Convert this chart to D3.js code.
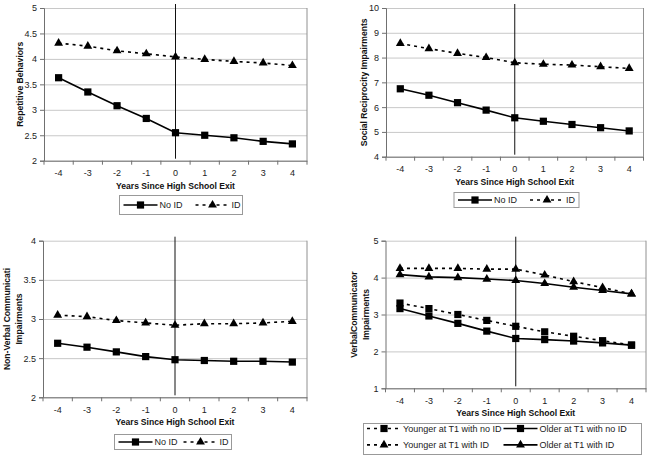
<!DOCTYPE html>
<html>
<head>
<meta charset="utf-8">
<script src="https://cdn.jsdelivr.net/npm/d3@7"></script>
<style>
  body { margin: 0; background: #fff; }
  svg { display: block; font-family: 'Liberation Sans', Arial, sans-serif; }
  .axis text { font-size: 9px; fill: #222; }
  .title { font-size: 8.6px; font-weight: bold; fill: #111; }
  .legend text { font-size: 9px; fill: #222; }
</style>
</head>
<body>
<svg width="651" height="459"></svg>
<script>
const years = [-4, -3, -2, -1, 0, 1, 2, 3, 4]

const repNoId = [3.63, 3.35, 3.08, 2.83, 2.55, 2.50, 2.45, 2.38, 2.33]
const repId = [4.31, 4.25, 4.16, 4.10, 4.04, 3.99, 3.95, 3.92, 3.87]

const socNoId = [6.74, 6.48, 6.18, 5.88, 5.57, 5.43, 5.30, 5.17, 5.04]
const socId = [8.57, 8.36, 8.17, 8.00, 7.79, 7.73, 7.70, 7.63, 7.56]

const nvNoId = [2.69, 2.64, 2.58, 2.52, 2.48, 2.47, 2.46, 2.46, 2.45]
const nvId = [3.05, 3.03, 2.98, 2.95, 2.92, 2.94, 2.94, 2.95, 2.97]

const vYoungNoId = [3.31, 3.16, 3.00, 2.84, 2.68, 2.53, 2.41, 2.29, 2.17]
const vOldNoId = [3.16, 2.96, 2.76, 2.55, 2.35, 2.32, 2.28, 2.23, 2.17]
const vYoungId = [4.25, 4.25, 4.25, 4.23, 4.23, 4.07, 3.89, 3.73, 3.56]
const vOldId = [4.08, 4.02, 4.00, 3.96, 3.92, 3.84, 3.74, 3.65, 3.56]

const repTicks = [2, 2.5, 3, 3.5, 4, 4.5, 5]
const socTicks = [4, 5, 6, 7, 8, 9, 10]
const nvTicks = [2, 2.5, 3, 3.5, 4]
const vTicks = [1, 2, 3, 4, 5]

const xTitle = 'Years Since High School Exit'

const svg = d3.select('svg')

const panels = [
  {
    box: { left: 44, right: 307, top: 8, bottom: 160.7 },
    ticks: repTicks, yLabel: ['Repetitive Behaviors'], yLabelX: 20,
    series: [
      { name: 'No ID', values: repNoId, shape: 'square', dashed: false },
      { name: 'ID', values: repId, shape: 'triangle', dashed: true }
    ],
    legend: { x: 119.5, y: 195.5, w: 123, h: 19, rows: 1 }
  },
  {
    box: { left: 386, right: 643.5, top: 8, bottom: 156.7 },
    ticks: socTicks, yLabel: ['Social Reciprocity Impairments'], yLabelX: 364,
    series: [
      { name: 'No ID', values: socNoId, shape: 'square', dashed: false },
      { name: 'ID', values: socId, shape: 'triangle', dashed: true }
    ],
    legend: { x: 454, y: 192.5, w: 125, h: 15, rows: 1 }
  },
  {
    box: { left: 43, right: 307, top: 240.7, bottom: 397.3 },
    ticks: nvTicks, yLabel: ['Non-Verbal Communicati', 'Impairments'], yLabelX: 7,
    series: [
      { name: 'No ID', values: nvNoId, shape: 'square', dashed: false },
      { name: 'ID', values: nvId, shape: 'triangle', dashed: true }
    ],
    legend: { x: 114.5, y: 434.5, w: 117, h: 15, rows: 1, gap: 6 }
  },
  {
    box: { left: 385.5, right: 646, top: 240.7, bottom: 388.3 },
    ticks: vTicks, yLabel: ['VerbalCommunicator', 'Impairments'], yLabelX: 354,
    series: [
      { name: 'Younger at T1 with no ID', values: vYoungNoId, shape: 'square', dashed: true },
      { name: 'Older at T1 with no ID', values: vOldNoId, shape: 'square', dashed: false },
      { name: 'Younger at T1 with ID', values: vYoungId, shape: 'triangle', dashed: true },
      { name: 'Older at T1 with ID', values: vOldId, shape: 'triangle', dashed: false }
    ],
    legend: { x: 363.5, y: 423.5, w: 278, h: 31, rows: 2 }
  }
]

const symbolFor = shape => shape === 'square'
  ? d3.symbol(d3.symbolSquare, 52)()
  : d3.symbol(d3.symbolTriangle, 34)()

const drawPanel = p => {
  const b = p.box
  const x = d3.scaleBand().domain(years).range([b.left, b.right]).padding(0)
  const y = d3.scaleLinear()
    .domain([p.ticks[0], p.ticks[p.ticks.length - 1]])
    .range([b.bottom, b.top])
  const cx = d => x(d) + x.bandwidth() / 2

  const g = svg.append('g')

  // gridlines
  g.append('g')
    .attr('transform', `translate(${b.left},0)`)
    .call(d3.axisLeft(y).tickValues(p.ticks).tickSize(-(b.right - b.left)).tickFormat(''))
    .call(s => s.select('.domain').remove())
    .selectAll('.tick line')
    .attr('stroke', '#c8c8c8')

  // right border
  g.append('line')
    .attr('x1', b.right).attr('x2', b.right)
    .attr('y1', b.top).attr('y2', b.bottom)
    .attr('stroke', '#909090')

  // y axis
  g.append('g')
    .attr('class', 'axis')
    .attr('transform', `translate(${b.left},0)`)
    .call(d3.axisLeft(y).tickValues(p.ticks).tickSize(4).tickPadding(3).tickFormat(d3.format('')))
    .call(s => s.select('.domain').attr('stroke', '#707070'))
    .call(s => s.selectAll('.tick line').attr('stroke', '#707070'))

  // x axis
  const xAxisG = g.append('g')
    .attr('class', 'axis')
    .attr('transform', `translate(0,${b.bottom})`)
    .call(d3.axisBottom(x).tickSize(0).tickPadding(9))
  xAxisG.select('.domain').attr('stroke', '#707070')
  xAxisG.selectAll('.bound')
    .data(years.concat(['end']))
    .enter()
    .append('line')
    .attr('class', 'bound')
    .attr('x1', d => d === 'end' ? b.right : x(d))
    .attr('x2', d => d === 'end' ? b.right : x(d))
    .attr('y1', 0).attr('y2', 4)
    .attr('stroke', '#707070')

  // vertical line at exit
  g.append('line')
    .attr('x1', cx(0)).attr('x2', cx(0))
    .attr('y1', b.top - 4).attr('y2', b.bottom - 2)
    .attr('stroke', '#111').attr('stroke-width', 1)

  // titles
  g.append('text')
    .attr('class', 'title')
    .attr('x', (b.left + b.right) / 2)
    .attr('y', b.bottom + 28)
    .attr('text-anchor', 'middle')
    .text(xTitle)

  const yMid = (b.top + b.bottom) / 2
  p.yLabel.forEach((t, i) => {
    const lx = p.yLabelX + i * 12
    g.append('text')
      .attr('class', 'title')
      .attr('transform', `translate(${lx},${yMid}) rotate(-90)`)
      .attr('text-anchor', 'middle')
      .attr('dy', '0.35em')
      .text(t)
  })

  // series
  const line = d3.line().x((d, i) => cx(years[i])).y(d => y(d))
  p.series.forEach(s => {
    g.append('path')
      .datum(s.values)
      .attr('d', line)
      .attr('fill', 'none')
      .attr('stroke', '#000')
      .attr('stroke-width', 1.6)
      .attr('stroke-dasharray', s.dashed ? '3,4' : null)
    g.selectAll(null)
      .data(s.values)
      .enter()
      .append('path')
      .attr('d', symbolFor(s.shape))
      .attr('transform', (d, i) => `translate(${cx(years[i])},${y(d)})`)
      .attr('fill', '#000')
  })

  // legend
  const L = p.legend
  const lg = g.append('g').attr('class', 'legend')
  lg.append('rect')
    .attr('x', L.x).attr('y', L.y)
    .attr('width', L.w).attr('height', L.h)
    .attr('fill', '#fff').attr('stroke', '#999')
  const cols = L.rows === 1 ? p.series.length : 2
  let cursor = L.x + 4
  p.series.forEach((s, i) => {
    const row = Math.floor(i / cols)
    const col = i % cols
    const ly = L.rows === 1 ? L.y + L.h / 2 : L.y + 5 + row * 16.4
    let sx
    if (L.rows === 1) {
      sx = cursor
    } else {
      sx = col === 0 ? L.x + 3.5 : L.x + 140
    }
    lg.append('line')
      .attr('x1', sx).attr('x2', sx + 34)
      .attr('y1', ly).attr('y2', ly)
      .attr('stroke', '#000').attr('stroke-width', 1.6)
      .attr('stroke-dasharray', s.dashed ? '3,4' : null)
    lg.append('path')
      .attr('d', symbolFor(s.shape))
      .attr('transform', `translate(${sx + 17},${ly})`)
    const t = lg.append('text')
      .attr('x', sx + 36)
      .attr('y', ly)
      .attr('dy', '0.35em')
      .text(s.name)
    cursor = sx + 36 + t.node().getComputedTextLength() + (L.gap || 13)
  })
}

panels.forEach(drawPanel)
</script>
</body>
</html>
